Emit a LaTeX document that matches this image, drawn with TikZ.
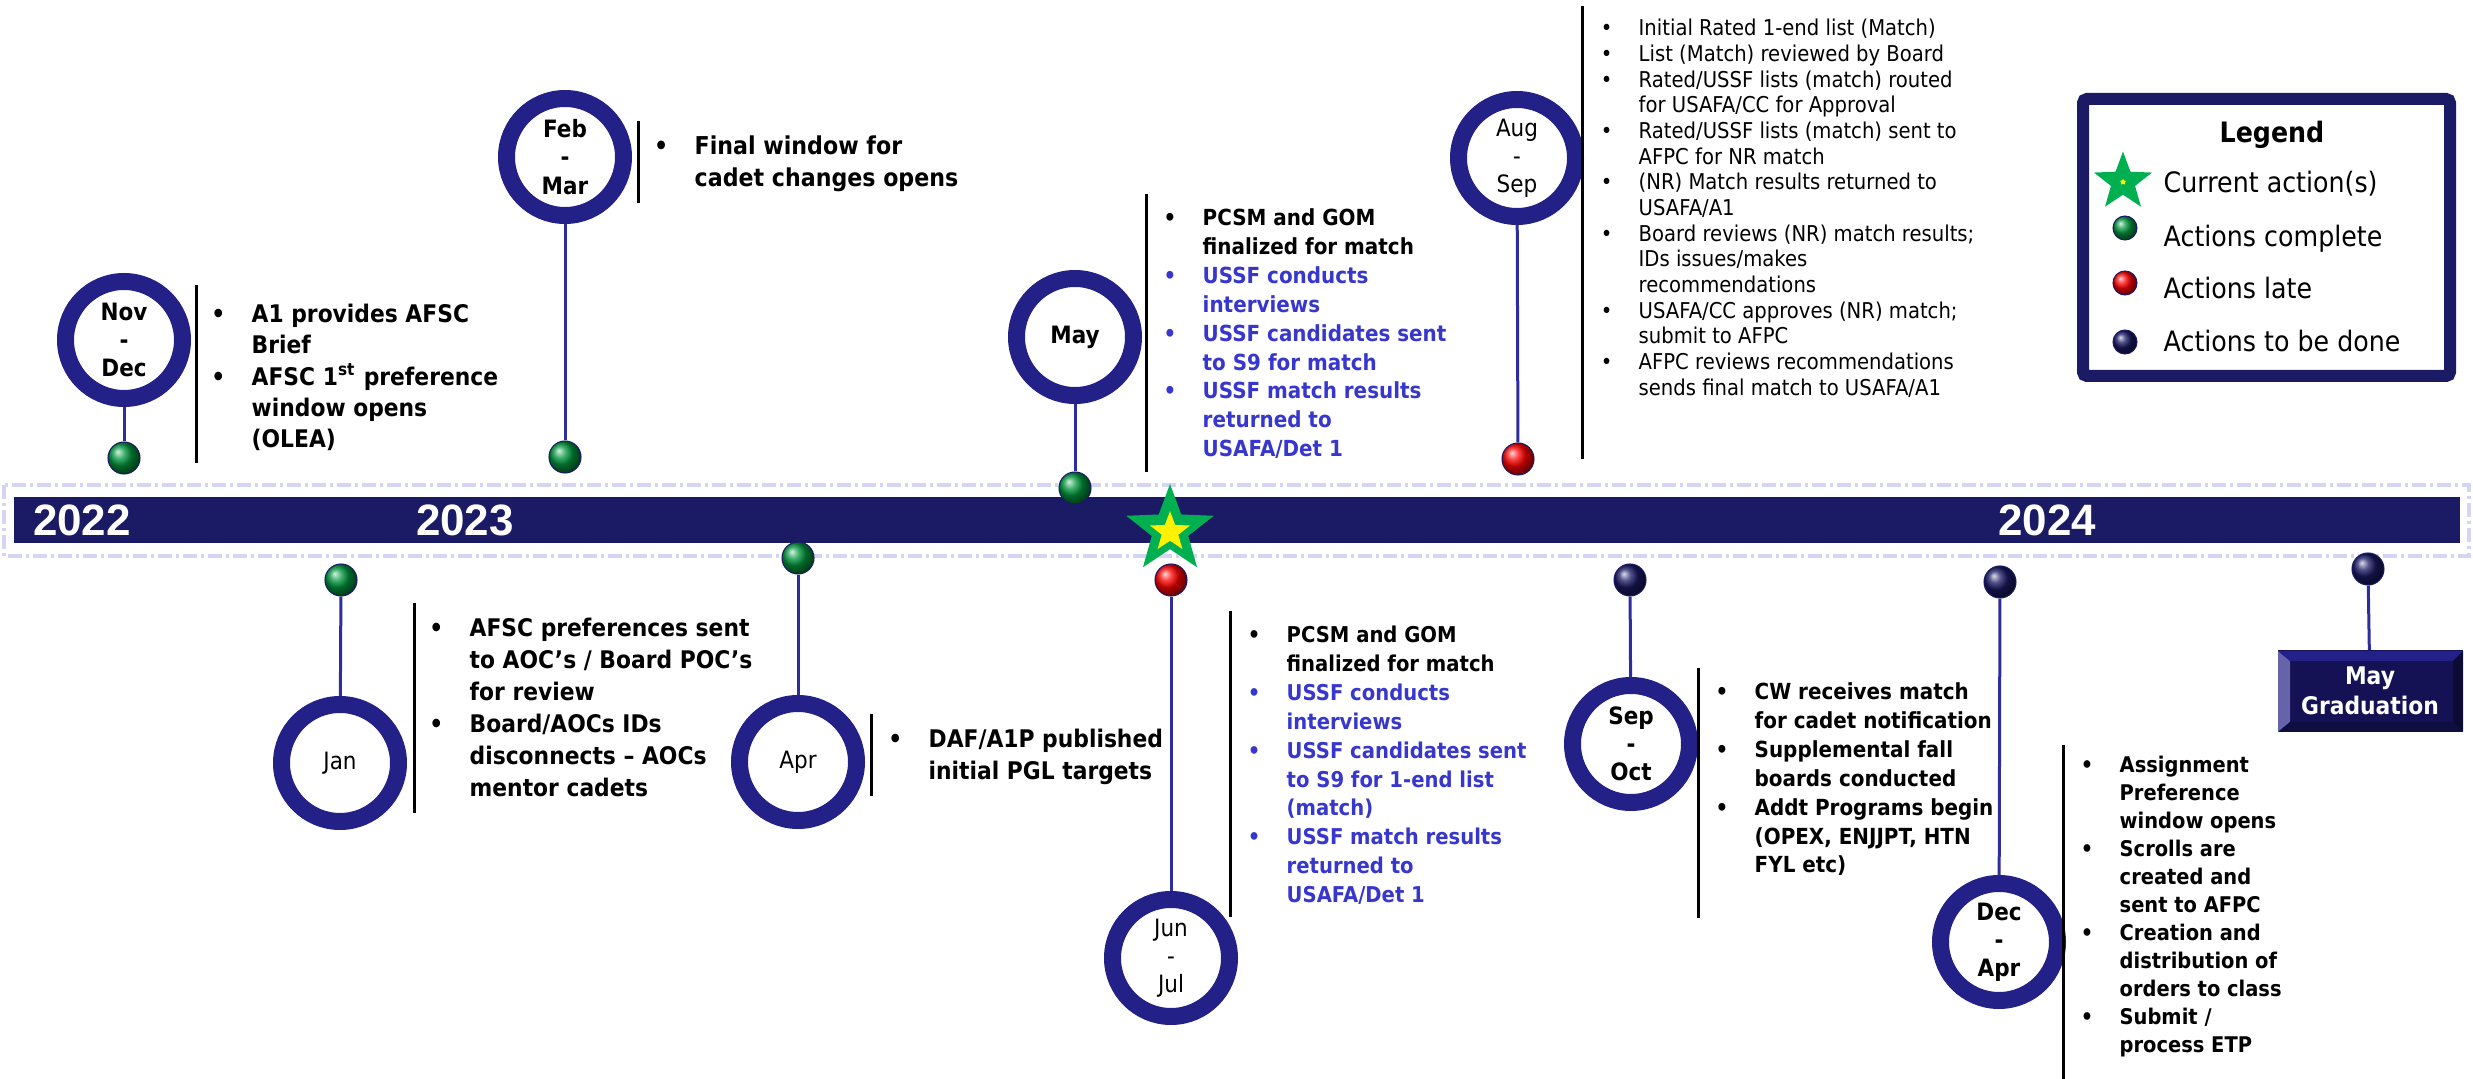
\documentclass[tikz,border=0pt]{standalone}
\usepackage{fontspec}
\setmainfont{DejaVu Sans}[FakeStretch=0.9]
\newfontfamily\yearfont{Liberation Sans}
\usetikzlibrary{shapes.geometric}

\definecolor{barnavy}{RGB}{27,26,100}
\definecolor{ringnavy}{RGB}{35,33,135}
\definecolor{stemblue}{RGB}{45,45,160}
\definecolor{ussfblue}{RGB}{55,55,205}
\definecolor{dashlav}{RGB}{212,212,245}
\definecolor{stargreen}{RGB}{0,176,80}
\definecolor{ballgreen}{RGB}{0,150,60}
\definecolor{ballnavy}{RGB}{25,25,100}
\definecolor{gradnavy}{RGB}{20,18,85}

\newcommand{\fs}[2]{\fontsize{#1}{#2}\selectfont}
\newcommand{\itm}{\llap{\textbullet\hspace{7.5pt}}}
\newcommand{\usf}{\color{ussfblue}}

\begin{document}
\begin{tikzpicture}[x=0.1mm,y=-0.1mm,
    monthring/.style={circle,draw=ringnavy,line width=1.7mm,fill=white,
      minimum size=11.7mm,inner sep=0pt,align=center,
      font=\fs{6.8}{8}\bfseries},
    mdot/.style={circle,inner sep=0pt,minimum size=3.2mm,draw=barnavy,
      line width=0.3pt},
    donedot/.style={mdot,ball color=ballgreen},
    latedot/.style={mdot,ball color=red},
    todot/.style={mdot,ball color=ballnavy},
    stemline/.style={draw=stemblue,line width=0.3mm},
    sepline/.style={line width=0.3mm,black},
    itemtxt/.style={anchor=base west,inner sep=0pt},
    yeartxt/.style={anchor=base,text=white,
      font=\yearfont\fs{12.5}{14}\bfseries}]
  \useasboundingbox (0,0) rectangle (2473,1079);

  % timeline bar
  \draw[dashlav,line width=0.35mm,
    dash pattern=on 1.4mm off 0.4mm on 0.3mm off 0.4mm]
    (4,485) rectangle (2469,556);
  \fill[barnavy] (14,497) rectangle (2460,543);
  \node[yeartxt] (y2022) at (82,536) {2022};
  \node[yeartxt] (y2023) at (465,536) {2023};
  \node[yeartxt] (y2024) at (2047,536) {2024};

  % months above the bar
  \node[monthring] (novdec) at (124,340) {Nov\\-\\Dec};
  \node[donedot] (novdecdot) at (124,458) {};
  \node[monthring] (febmar) at (565,157) {Feb\\-\\Mar};
  \node[donedot] (febmardot) at (565,457) {};
  \node[monthring] (may) at (1075,337) {May};
  \node[donedot] (maydot) at (1075,488) {};
  \node[monthring,font=\fs{6.8}{8}] (augsep) at (1517,158) {Aug\\-\\Sep};
  \node[latedot] (augsepdot) at (1518,459) {};

  % months below the bar
  \node[monthring,font=\fs{6.8}{8}] (jan) at (340,763) {Jan};
  \node[donedot] (jandot) at (341,580) {};
  \node[monthring,font=\fs{6.8}{8}] (apr) at (798,762) {Apr};
  \node[donedot] (aprdot) at (798,558) {};
  \node[monthring,font=\fs{6.8}{8}] (junjul) at (1171,958) {Jun\\-\\Jul};
  \node[latedot] (junjuldot) at (1171,580) {};
  \node[monthring] (sepoct) at (1631,744) {Sep\\-\\Oct};
  \node[todot] (sepoctdot) at (1630,580) {};
  \node[monthring] (decapr) at (1999,942) {Dec\\-\\Apr};
  \node[todot] (decaprdot) at (2000,582) {};
  \node[todot] (graddot) at (2368,569) {};
  \node[fill=gradnavy,minimum width=18.5mm,minimum height=8.1mm,
    inner sep=0pt,align=center,text=white,font=\fs{6.9}{8.5}\bfseries]
    (grad) at (2370,691) {May\\Graduation};
  \fill[ringnavy!70!white] (2278,651) -- (2290,661) -- (2290,722) -- (2278,732) -- cycle;
  \fill[ringnavy] (2278,651) -- (2463,651) -- (2453,661) -- (2290,661) -- cycle;
  \fill[gradnavy!60!black] (2463,651) -- (2463,732) -- (2453,722) -- (2453,661) -- cycle;
  \fill[gradnavy!75!black] (2278,732) -- (2463,732) -- (2453,722) -- (2290,722) -- cycle;

  % stems
  \draw[stemline] (novdecdot) -- (novdec);
  \draw[stemline] (febmardot) -- (febmar);
  \draw[stemline] (maydot) -- (may);
  \draw[stemline] (augsepdot) -- (augsep);
  \draw[stemline] (jandot) -- (jan);
  \draw[stemline] (aprdot) -- (apr);
  \draw[stemline] (junjuldot) -- (junjul);
  \draw[stemline] (sepoctdot) -- (sepoct);
  \draw[stemline] (decaprdot) -- (decapr);
  \draw[stemline] (graddot) -- (grad);

  % current action
  \node[star,star points=5,star point ratio=2.4,fill=stargreen,
    inner sep=0pt,minimum size=9.2mm] (now) at (1170,530) {};
  \node[star,star points=5,star point ratio=2.4,fill=yellow,
    inner sep=0pt,minimum size=4.2mm] (nowin) at (1170,532) {};

  % separators
  \draw[sepline] (196,285) -- (196,463);
  \draw[sepline] (638,121) -- (638,203);
  \draw[sepline] (1146,194) -- (1146,472);
  \draw[sepline] (1582,6) -- (1582,459);
  \draw[sepline] (414,603) -- (414,813);
  \draw[sepline] (871,714) -- (871,796);
  \draw[sepline] (1230,611) -- (1230,917);
  \draw[sepline] (1698,668) -- (1698,918);
  \draw[sepline] (2063,745) -- (2063,1079);

  % action lists
  \node[itemtxt,font=\fs{6.9}{8.8}\bfseries] (novdectxt) at (251,323)
    {\begin{tabular}[t]{@{}l@{}}
      \itm A1 provides AFSC\\
      Brief\\
      \itm AFSC 1\textsuperscript{st} preference\\
      window opens\\
      (OLEA)
    \end{tabular}};
  \node[itemtxt,font=\fs{7}{9.1}\bfseries] (febmartxt) at (694,155)
    {\begin{tabular}[t]{@{}l@{}}
      \itm Final window for\\
      cadet changes opens
    \end{tabular}};
  \node[itemtxt,font=\fs{6.3}{8.2}\bfseries] (maytxt) at (1202,226)
    {\begin{tabular}[t]{@{}l@{}}
      \itm PCSM and GOM\\
      finalized for match\\
      \usf\itm USSF conducts\\
      \usf interviews\\
      \usf\itm USSF candidates sent\\
      \usf to S9 for match\\
      \usf\itm USSF match results\\
      \usf returned to\\
      \usf USAFA/Det 1
    \end{tabular}};
  \node[itemtxt,font=\fs{6.2}{7.3}] (augseptxt) at (1638,36)
    {\begin{tabular}[t]{@{}l@{}}
      \itm Initial Rated 1-end list (Match)\\
      \itm List (Match) reviewed by Board\\
      \itm Rated/USSF lists (match) routed\\
      for USAFA/CC for Approval\\
      \itm Rated/USSF lists (match) sent to\\
      AFPC for NR match\\
      \itm (NR) Match results returned to\\
      USAFA/A1\\
      \itm Board reviews (NR) match results;\\
      IDs issues/makes\\
      recommendations\\
      \itm USAFA/CC approves (NR) match;\\
      submit to AFPC\\
      \itm AFPC reviews recommendations\\
      sends final match to USAFA/A1
    \end{tabular}};
  \node[itemtxt,font=\fs{6.9}{9.1}\bfseries] (jantxt) at (469,637)
    {\begin{tabular}[t]{@{}l@{}}
      \itm AFSC preferences sent\\
      to AOC’s / Board POC’s\\
      for review\\
      \itm Board/AOCs IDs\\
      disconnects – AOCs\\
      mentor cadets
    \end{tabular}};
  \node[itemtxt,font=\fs{6.9}{9.1}\bfseries] (aprtxt) at (928,748)
    {\begin{tabular}[t]{@{}l@{}}
      \itm DAF/A1P published\\
      initial PGL targets
    \end{tabular}};
  \node[itemtxt,font=\fs{6.2}{8.2}\bfseries] (junjultxt) at (1286,643)
    {\begin{tabular}[t]{@{}l@{}}
      \itm PCSM and GOM\\
      finalized for match\\
      \usf\itm USSF conducts\\
      \usf interviews\\
      \usf\itm USSF candidates sent\\
      \usf to S9 for 1-end list\\
      \usf (match)\\
      \usf\itm USSF match results\\
      \usf returned to\\
      \usf USAFA/Det 1
    \end{tabular}};
  \node[itemtxt,font=\fs{6.3}{8.2}\bfseries] (sepocttxt) at (1754,700)
    {\begin{tabular}[t]{@{}l@{}}
      \itm CW receives match\\
      for cadet notification\\
      \itm Supplemental fall\\
      boards conducted\\
      \itm Addt Programs begin\\
      (OPEX, ENJJPT, HTN\\
      FYL etc)
    \end{tabular}};
  \node[itemtxt,font=\fs{6.15}{7.95}\bfseries] (decaprtxt) at (2119,773)
    {\begin{tabular}[t]{@{}l@{}}
      \itm Assignment\\
      Preference\\
      window opens\\
      \itm Scrolls are\\
      created and\\
      sent to AFPC\\
      \itm Creation and\\
      distribution of\\
      orders to class\\
      \itm Submit /\\
      process ETP
    \end{tabular}};

  % legend
  \draw[barnavy,line width=1.2mm,rounded corners=0.4mm]
    (2083,99) rectangle (2450,376);
  \node[anchor=base,font=\fs{8}{10}\bfseries] (legtitle) at (2272,143) {Legend};
  \node[star,star points=5,star point ratio=2.4,fill=stargreen,
    inner sep=0pt,minimum size=6.1mm] (legstar) at (2123,182) {};
  \node[star,star points=5,fill=yellow,inner sep=0pt,
    minimum size=0.6mm] (legstarin) at (legstar) {};
  \node[donedot,minimum size=2.4mm] (legdone) at (2125,228) {};
  \node[latedot,minimum size=2.4mm] (leglate) at (2125,283) {};
  \node[todot,minimum size=2.4mm] (legtodo) at (2125,342) {};
  \node[itemtxt,font=\fs{8}{10}] (legnowtxt) at (2163,193) {Current action(s)};
  \node[itemtxt,font=\fs{8}{10}] (legdonetxt) at (2163,247) {Actions complete};
  \node[itemtxt,font=\fs{8}{10}] (leglatetxt) at (2163,299) {Actions late};
  \node[itemtxt,font=\fs{8}{10}] (legtodotxt) at (2163,352) {Actions to be done};
\end{tikzpicture}
\end{document}
